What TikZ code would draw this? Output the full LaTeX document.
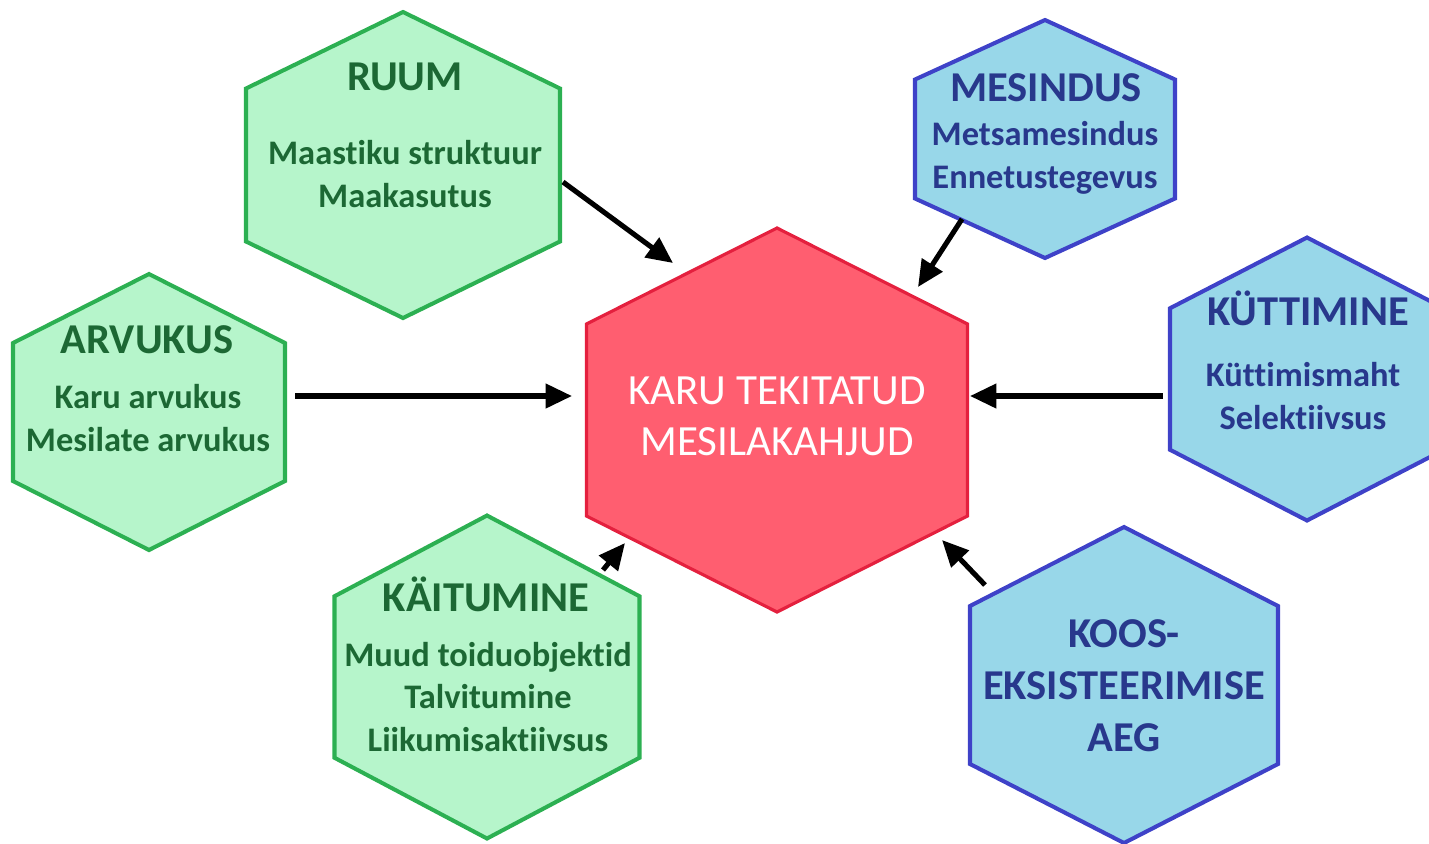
\documentclass[tikz,border=0pt]{standalone}
\usepackage{fontspec}
\setmainfont{Carlito}[Ligatures={NoCommon}]
\usetikzlibrary{arrows.meta}

\definecolor{mint}{RGB}{182,245,203}
\definecolor{leaf}{RGB}{44,176,82}
\definecolor{forest}{RGB}{28,104,52}
\definecolor{sky}{RGB}{152,215,233}
\definecolor{royal}{RGB}{62,66,200}
\definecolor{navy}{RGB}{40,56,140}
\definecolor{rose}{RGB}{255,94,112}
\definecolor{crimson}{RGB}{228,32,62}

\tikzset{
  pics/hexa/.style 2 args={code={
    \path[pic actions] (0,-#2/2) -- (#1/2,-#2/4) -- (#1/2,#2/4) -- (0,#2/2)
      -- (-#1/2,#2/4) -- (-#1/2,-#2/4) -- cycle;
  }},
  greenhex/.style={fill=mint, draw=leaf, line width=2.3pt},
  bluehex/.style={fill=sky, draw=royal, line width=2.3pt},
  redhex/.style={fill=rose, draw=crimson, line width=1.8pt},
  greenhead/.style={anchor=base, inner sep=0pt, text=forest,
    font=\fontsize{24.2}{29.6}\selectfont\bfseries},
  greenbody/.style={align=center, inner sep=0pt, text=forest,
    font=\fontsize{19.6}{24.2}\selectfont\bfseries},
  bluehead/.style={greenhead, text=navy},
  bluebody/.style={greenbody, text=navy},
  arrow/.style={-{Triangle[length=15pt,width=13.5pt]}, line width=2.9pt, black}
}

\begin{document}
\begin{tikzpicture}[x=0.02cm, y=-0.02cm]
      \useasboundingbox (0,0) rectangle (1429,843);

      % hexagons
      \pic[redhex] at (777,420) {hexa={381}{384}};
      \pic[greenhex] at (403,165) {hexa={314}{306}};
      \pic[greenhex] at (149,412) {hexa={272}{276}};
      \pic[greenhex] at (487,677) {hexa={305}{323}};
      \pic[bluehex] at (1045,139) {hexa={260}{238}};
      \pic[bluehex] at (1307,379) {hexa={274}{283}};
      \pic[bluehex] at (1124,685) {hexa={308}{316}};

      % texts
      \node[align=center, inner sep=0pt, text=white,
        font=\fontsize{24.5}{29}\selectfont] (karu) at (777,416)
        {KARU TEKITATUD\\MESILAKAHJUD};

      \node[greenhead] (ruum-title) at (405,90) {RUUM};
      \node[greenbody] (ruum) at (405,174) {Maastiku struktuur\\Maakasutus};

      \node[greenhead] (arvukus-title) at (147,353) {ARVUKUS};
      \node[greenbody] (arvukus) at (148,418) {Karu arvukus\\Mesilate arvukus};

      \node[greenhead] (kaitumine-title) at (486,611) {KÄITUMINE};
      \node[greenbody] (kaitumine) at (488,697)
        {Muud toiduobjektid\\Talvitumine\\Liikumisaktiivsus};

      \node[bluehead] (mesindus-title) at (1046,101) {MESINDUS};
      \node[bluebody] (mesindus) at (1045,158) {Metsamesindus\\Ennetustegevus};

      \node[bluehead] (kyttimine-title) at (1308,325) {KÜTTIMINE};
      \node[bluebody] (kyttimine) at (1303,396) {Küttimismaht\\Selektiivsus};

      \node[bluebody, font=\fontsize{24.2}{29.6}\selectfont\bfseries] (koos)
        at (1124,686) {KOOS-\\EKSISTEERIMISE\\AEG};

      % arrow ends
      \coordinate (ruum-out) at (563,182);
      \coordinate (karu-nw) at (673,263);
      \coordinate (mesindus-out) at (962,219);
      \coordinate (karu-ne) at (918,287);
      \coordinate (arvukus-out) at (295,396);
      \coordinate (karu-w) at (572,396);
      \coordinate (kyttimine-out) at (1163,396);
      \coordinate (karu-e) at (970,396);
      \coordinate (kaitumine-out) at (603,570);
      \coordinate (karu-sw) at (625,543);
      \coordinate (koos-out) at (985,585);
      \coordinate (karu-se) at (942,540);

      \path [arrow] (ruum-out) edge (karu-nw);
      \path [arrow] (mesindus-out) edge (karu-ne);
      \path [arrow] (arvukus-out) edge (karu-w);
      \path [arrow] (kyttimine-out) edge (karu-e);
      \path [arrow] (kaitumine-out) edge (karu-sw);
      \path [arrow] (koos-out) edge (karu-se);
    \end{tikzpicture}
\end{document}
